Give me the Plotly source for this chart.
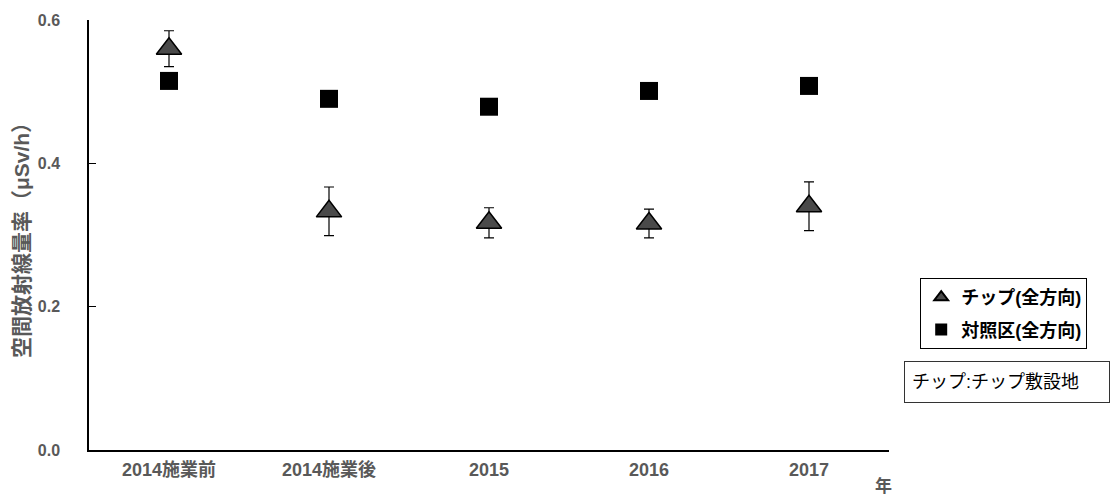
import plotly.graph_objects as go

categories = ["2014施業前", "2014施業後", "2015", "2016", "2017"]
chip_values = [0.560, 0.333, 0.317, 0.316, 0.340]
chip_errors = [0.025, 0.034, 0.021, 0.020, 0.034]
control_values = [0.515, 0.490, 0.479, 0.501, 0.508]
y_ticks = [0.0, 0.2, 0.4, 0.6]
y_tick_labels = ["0.0", "0.2", "0.4", "0.6"]

FONT = "Liberation Sans, Noto Sans CJK JP, sans-serif"
GRAY = "#595959"

fig = go.Figure()
fig.add_trace(go.Scatter(
    x=categories, y=chip_values, mode="markers", name="チップ(全方向)",
    legendgroup="a",
    marker=dict(symbol="triangle-up", size=22, color="#4a4a4a",
                line=dict(color="black", width=1.5)),
    error_y=dict(type="data", array=chip_errors, visible=True,
                 color="black", thickness=1.2, width=5),
))
fig.add_trace(go.Scatter(
    x=categories, y=control_values, mode="markers", name="対照区(全方向)",
    legendgroup="b",
    marker=dict(symbol="square", size=18, color="black",
                line=dict(color="black", width=0)),
))

fig.update_layout(
    width=1115, height=495,
    margin=dict(l=89, r=226, t=18, b=45),
    plot_bgcolor="white", paper_bgcolor="white",
    font=dict(family=FONT, color=GRAY, size=16),
    showlegend=True,
    legend=dict(
        x=1.039, y=0.40, xanchor="left", yanchor="top",
        bordercolor="black", borderwidth=1, bgcolor="white",
        font=dict(family=FONT, color="black", size=18, weight="bold"),
        itemsizing="constant", tracegroupgap=6, itemwidth=30,
    ),
    xaxis=dict(
        type="category", range=[-0.5, 4.5],
        showline=True, linecolor="black", linewidth=1.5,
        showgrid=False, ticks="", zeroline=False,
        ticklabelstandoff=3,
        tickfont=dict(family=FONT, color=GRAY, size=18, weight="bold"),
    ),
    yaxis=dict(
        range=[0, 0.6], tickvals=y_ticks, ticktext=y_tick_labels,
        showline=True, linecolor="black", linewidth=1.5,
        showgrid=False, zeroline=False,
        ticks="inside", ticklen=7, tickcolor="black",
        ticklabelstandoff=24,
        tickfont=dict(family=FONT, color=GRAY, size=16, weight="bold"),
        title=dict(text="空間放射線量率（μSv/h）", standoff=2,
                   font=dict(family=FONT, color=GRAY, size=21, weight="bold")),
    ),
    annotations=[
        dict(text="年", xref="paper", yref="paper", x=0.98, y=-0.056,
             xanchor="left", yanchor="top", showarrow=False,
             font=dict(family=FONT, color=GRAY, size=17, weight="bold")),
        dict(text="チップ:チップ敷設地", xref="paper", yref="paper",
             x=1.019, y=0.208, xanchor="left", yanchor="top",
             showarrow=False, bordercolor="#333333", borderwidth=1,
             borderpad=7, bgcolor="white", width=190, height=26,
             align="left", valign="middle",
             font=dict(family=FONT, color="black", size=18)),
    ],
)

fig.write_html("out.html")
